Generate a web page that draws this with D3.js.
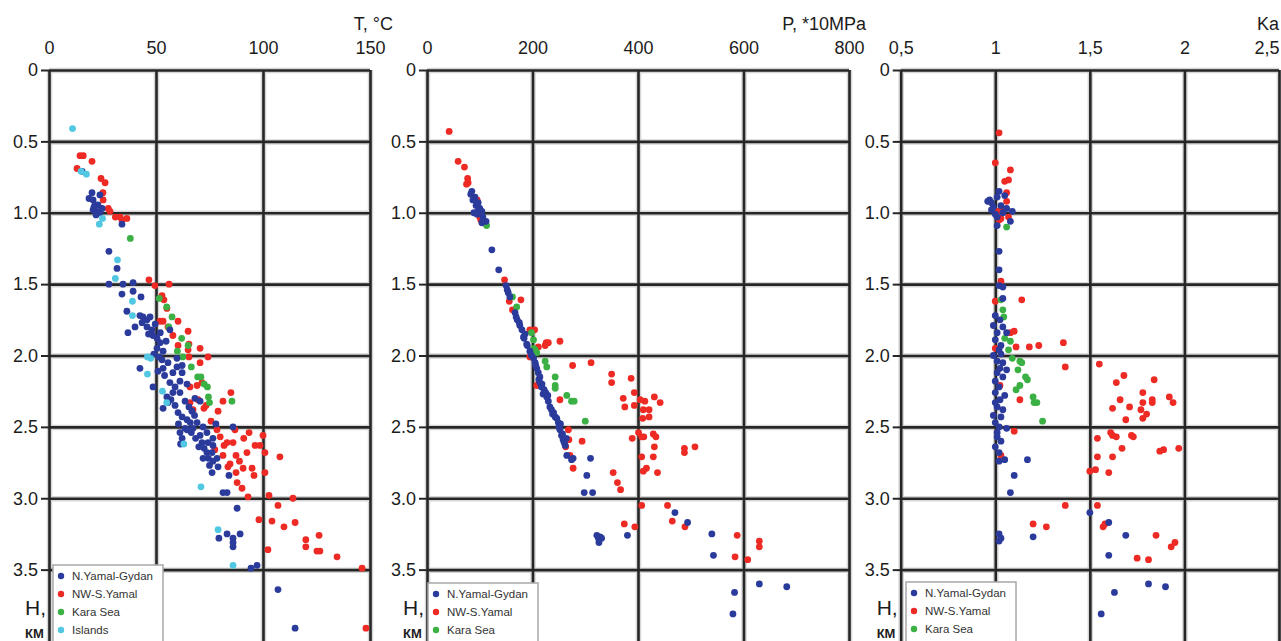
<!DOCTYPE html>
<html>
<head>
<meta charset="utf-8">
<script src="https://cdn.jsdelivr.net/npm/d3@7"></script>
<style>
  body { margin: 0; background: #fff; }
  svg { display: block; }
</style>
</head>
<body>
<svg id="chart" width="1281" height="641"></svg>
<script>
// ---- data: [value, depth km] ----
let depthTicks = [0, 0.5, 1, 1.5, 2, 2.5, 3, 3.5];
let tempTicks = [0, 50, 100, 150];
let presTicks = [0, 200, 400, 600, 800];
let kaTicks = [0.5, 1, 1.5, 2, 2.5];
let seriesNames = ["N.Yamal-Gydan", "NW-S.Yamal", "Kara Sea", "Islands"];

let tempGydan = [[20.1,0.86],[18.7,0.90],[20.6,0.91],[23.8,0.875],[21.5,0.945],[22.9,0.945],[20.6,0.98],[22.4,0.99],[22,1.015],[23.8,1.0],[21,0.96],[24.8,0.97],[15.5,0.71],[34.1,1.08],[28,1.27],[31.8,1.39],[28,1.50],[34.6,1.50],[39.3,1.49],[39.3,1.55],[34.1,1.57],[43,1.59],[36.4,1.69],[36.9,1.84],[40.2,1.80],[42.5,1.72],[43.9,1.73],[45.8,1.75],[47.2,1.73],[43.5,1.77],[45.8,1.80],[48.1,1.82],[48.6,1.86],[50.5,1.88],[51.9,1.91],[50.5,1.95],[53.3,1.97],[51.4,2.01],[52.8,2.03],[55.6,2.05],[53.3,2.09],[50.9,2.11],[42.5,2.09],[59.8,2.08],[62.2,2.07],[57.9,2.12],[62.2,2.12],[48.6,2.22],[56.5,2.19],[58.9,2.22],[57.9,2.26],[61.2,2.26],[63.6,2.32],[55.1,2.29],[55.6,2.33],[53.3,2.37],[58.9,2.35],[60.3,2.40],[62.2,2.43],[64.5,2.45],[66.8,2.39],[70.6,2.32],[68.2,2.30],[69.2,2.47],[72,2.50],[67.3,2.51],[63.6,2.51],[86,2.50],[61.2,2.54],[64.5,2.52],[62.2,2.58],[70.6,2.56],[73.8,2.54],[76.6,2.58],[71.5,2.61],[74.3,2.61],[76.6,2.63],[73.8,2.68],[76.2,2.68],[72,2.72],[76.6,2.74],[78.5,2.72],[76.2,2.82],[84.1,2.84],[81.3,2.96],[83.2,2.96],[87.9,3.07],[79.4,3.28],[83.2,3.25],[86,3.28],[86,3.31],[86,3.34],[89.3,3.25],[94.4,3.49],[97.2,3.47],[107,3.64],[115,3.91],[56.5,1.82],[54.7,1.90],[49.6,1.78],[61.2,2.18],[65.4,2.36],[68,2.42],[66.5,2.54],[60.5,2.48],[57,2.31],[54,2.14],[61.5,2.62],[72.5,2.65],[75,2.77],[78,2.48],[59.8,2.02],[64.5,2.20],[68.5,2.58],[70,2.64],[74.5,2.72],[66,2.47],[79,2.78],[46.5,1.85],[52,1.84],[49,1.99]];
let tempYamal = [[14.5,0.60],[16,0.60],[20.1,0.64],[13.1,0.69],[24.3,0.76],[26.2,0.79],[25.2,0.86],[25.3,0.91],[27.7,0.97],[28.5,0.99],[31,1.03],[33.2,1.03],[36.4,1.04],[34.1,1.05],[46.7,1.47],[49.5,1.51],[56.1,1.50],[52.8,1.58],[53.7,1.61],[55.1,1.67],[51.9,1.76],[53.3,1.76],[60.3,1.76],[55.6,1.80],[65,1.83],[57.9,1.86],[60.3,1.93],[65.4,1.92],[70.6,1.95],[65,1.96],[65.4,2.01],[74.3,2.01],[70.6,2.05],[65.9,2.22],[69.2,2.21],[71.5,2.19],[85,2.26],[81.3,2.32],[79,2.39],[72.4,2.37],[73.4,2.35],[65.9,2.33],[75.7,2.46],[67.3,2.38],[69.6,2.31],[78.5,2.52],[86.9,2.52],[93.5,2.54],[100,2.56],[83.2,2.61],[81.8,2.63],[86,2.61],[96.3,2.63],[98.6,2.63],[100.9,2.68],[107.9,2.71],[81.3,2.70],[87.4,2.70],[84.6,2.76],[90.7,2.79],[94.9,2.79],[83.6,2.78],[87.4,2.82],[95.8,2.84],[100.9,2.82],[87.9,2.89],[90.2,2.93],[93,2.99],[102.8,2.98],[114,3.00],[107,3.05],[98.1,3.15],[104.2,3.16],[115,3.17],[109.8,3.20],[120,3.29],[120,3.34],[126.2,3.26],[125.2,3.37],[126.6,3.37],[102.3,3.36],[134.6,3.41],[146.3,3.49],[148.1,3.91],[80,2.57],[91,2.58],[77.5,2.66],[89,2.74],[92.5,2.68]];
let tempKara = [[38,1.18],[51.5,1.60],[55,1.66],[57.5,1.73],[62,1.88],[65,1.93],[62.5,2.01],[66.5,2.08],[69.5,2.15],[71,2.15],[72.5,2.20],[74,2.22],[74.5,2.29],[75,2.33],[85.5,2.32],[56,1.80],[60,1.97]];
let tempIslands = [[11,0.41],[15,0.71],[17.5,0.73],[25,1.04],[23.5,1.08],[32,1.33],[31,1.46],[39,1.62],[39,1.72],[46,2.01],[47.5,2.02],[46,2.13],[53,2.25],[55,2.33],[63,2.62],[71,2.92],[79,3.22],[86,3.47]];

let presGydan = [[85,0.85],[91,0.89],[87,0.91],[97,0.93],[93,0.95],[100,0.97],[97,0.99],[104,0.99],[89,1.00],[106,1.03],[112,1.06],[104,1.07],[83,0.87],[95,1.01],[123,1.26],[136,1.40],[150,1.51],[152,1.54],[154,1.56],[157,1.59],[167,1.70],[171,1.75],[176,1.79],[180,1.82],[183,1.87],[190,1.93],[175,1.77],[184,1.88],[189,1.92],[195,1.97],[202,2.02],[205,2.05],[208,2.09],[211,2.12],[214,2.15],[214,2.19],[217,2.22],[222,2.24],[227,2.29],[230,2.32],[233,2.36],[236,2.38],[240,2.40],[246,2.44],[249,2.47],[252,2.52],[255,2.56],[258,2.59],[262,2.63],[265,2.70],[274,2.73],[277,2.72],[310,2.72],[303,2.84],[298,2.96],[314,2.96],[322,3.26],[325,3.28],[328,3.27],[331,3.28],[326,3.31],[380,3.26],[470,3.10],[494,3.17],[540,3.25],[543,3.40],[630,3.60],[682,3.62],[583,3.66],[580,3.81],[198,2.00],[220,2.27],[225,2.26],[243,2.43],[250,2.50],[257,2.55],[260,2.61],[206,2.07],[218,2.20],[169,1.73],[186,1.85],[212,2.17],[229,2.28],[238,2.41],[253,2.48],[264,2.58]];
let presYamal = [[42,0.43],[59,0.64],[71,0.68],[77,0.76],[78,0.79],[75,0.80],[95,0.91],[100,1.03],[102,1.05],[147,1.47],[178,1.61],[156,1.62],[162,1.68],[195,1.82],[204,1.82],[226,1.91],[230,1.91],[252,1.90],[224,1.93],[211,1.94],[195,2.01],[276,2.07],[311,2.05],[350,2.13],[350,2.19],[387,2.16],[393,2.26],[372,2.30],[375,2.36],[393,2.35],[404,2.31],[413,2.32],[410,2.38],[421,2.38],[431,2.29],[442,2.33],[409,2.44],[421,2.43],[252,2.31],[208,2.21],[268,2.52],[269,2.59],[294,2.60],[263,2.64],[271,2.70],[277,2.79],[389,2.58],[401,2.54],[407,2.57],[411,2.57],[429,2.55],[434,2.57],[431,2.64],[429,2.71],[407,2.71],[416,2.79],[410,2.81],[437,2.82],[488,2.65],[488,2.68],[508,2.64],[353,2.82],[361,2.89],[367,2.94],[407,3.05],[456,3.05],[465,3.16],[489,3.20],[374,3.18],[394,3.20],[588,3.26],[630,3.30],[630,3.34],[584,3.41],[608,3.43]];
let presKara = [[113,1.09],[162,1.59],[170,1.66],[198,1.84],[202,1.89],[205,1.96],[202,1.95],[208,1.98],[224,2.04],[227,2.08],[243,2.15],[243,2.21],[243,2.23],[265,2.28],[274,2.32],[279,2.32],[300,2.46]];

let kaGydan = [[0.97,0.91],[0.98,0.93],[0.96,0.92],[0.99,0.96],[1.01,0.89],[1.02,0.85],[1.05,0.88],[1.03,0.95],[1.06,0.97],[1.09,0.99],[1.01,1.03],[1.08,1.06],[1.01,1.09],[1.04,1.00],[0.98,0.98],[1.00,1.01],[1.02,1.27],[1.02,1.40],[1.02,1.51],[1.04,1.52],[1.04,1.60],[1.00,1.72],[1.025,1.75],[0.99,1.79],[1.04,1.80],[1.01,1.84],[1.06,1.84],[1.00,1.89],[1.03,1.93],[1.02,1.96],[1.01,2.04],[1.04,2.05],[1.025,2.09],[1.06,2.10],[1.01,2.12],[1.02,2.22],[1.00,2.26],[1.05,2.28],[1.025,2.31],[1.01,2.36],[0.99,2.42],[1.03,2.43],[1.02,2.50],[1.06,2.51],[1.01,2.57],[1.03,2.60],[1.00,2.64],[1.02,2.68],[1.00,2.18],[1.04,2.15],[0.99,2.00],[1.03,1.99],[1.00,2.33],[1.04,2.38],[1.00,2.47],[1.01,2.54],[1.17,2.73],[1.05,2.73],[1.02,2.74],[1.10,2.84],[1.08,2.96],[1.50,3.10],[1.60,3.17],[1.69,3.26],[1.20,3.27],[1.02,3.25],[1.03,3.28],[1.02,3.30],[1.60,3.40],[1.81,3.60],[1.90,3.62],[1.63,3.66],[1.56,3.81]];
let kaYamal = [[1.02,0.44],[1.00,0.65],[1.08,0.70],[1.05,0.78],[1.07,0.77],[1.06,0.86],[1.06,0.92],[1.03,0.98],[1.02,1.05],[1.03,1.04],[1.07,1.03],[1.01,0.99],[1.03,1.48],[1.00,1.62],[1.14,1.61],[1.08,1.84],[1.10,1.83],[1.11,1.94],[1.18,1.94],[1.23,1.93],[1.36,1.91],[1.37,2.08],[1.00,1.95],[1.025,2.21],[1.13,2.31],[1.10,2.53],[1.03,2.70],[1.55,2.06],[1.64,2.19],[1.68,2.14],[1.84,2.17],[1.66,2.31],[1.62,2.37],[1.71,2.36],[1.78,2.26],[1.78,2.33],[1.83,2.31],[1.83,2.33],[1.77,2.38],[1.80,2.41],[1.78,2.44],[1.69,2.45],[1.92,2.29],[1.94,2.33],[1.54,2.58],[1.61,2.54],[1.62,2.56],[1.64,2.57],[1.72,2.56],[1.73,2.57],[1.67,2.65],[1.87,2.67],[1.89,2.66],[1.97,2.65],[1.54,2.71],[1.62,2.71],[1.53,2.80],[1.50,2.81],[1.60,2.82],[1.37,3.05],[1.54,3.05],[1.20,3.18],[1.27,3.20],[1.57,3.20],[1.58,3.18],[1.85,3.26],[1.93,3.34],[1.95,3.31],[1.75,3.42],[1.81,3.43]];
let kaKara = [[1.06,1.10],[1.03,1.61],[1.04,1.68],[1.045,1.73],[1.08,1.90],[1.07,1.96],[1.09,2.02],[1.13,2.04],[1.14,2.05],[1.12,2.10],[1.16,2.15],[1.17,2.17],[1.13,2.21],[1.11,2.24],[1.20,2.29],[1.205,2.33],[1.22,2.33],[1.25,2.46],[1.05,1.88]];

let colors = {gydan: "#2b3b9c", yamal: "#ee2a24", kara: "#3bb044", islands: "#52c7e2"};
let font = "'Liberation Sans', Arial, sans-serif";
let textColor = "#1c1c1c";

let svg = d3.select("#chart");
let plotTop = 70, plotBottom = 641;
let depth = d3.scaleLinear([0, 4], [plotTop, plotBottom]);
let depthFormat = d => d === 0 ? "0" : d3.format(".1f")(d);

function makePanel(cfg){
    let x = d3.scaleLinear(cfg.domain, [cfg.left, cfg.right]);
    let innerWidth = cfg.right - cfg.left;
    let innerHeight = plotBottom - plotTop;
    let panel = svg.append("g");

    // grid: soft halo first, then the dark line
    [["#d6d6d6", 5.5], ["#262626", 2.6]].forEach(([stroke, width]) => {
        panel.append("g")
            .attr("transform", `translate(${cfg.left},0)`)
            .call(d3.axisLeft(depth).tickValues(depthTicks).tickFormat("").tickSize(-innerWidth).tickSizeOuter(0))
            .call(g => g.select(".domain").remove())
            .selectAll("line").attr("stroke", stroke).attr("stroke-width", width);

        panel.append("g")
            .attr("transform", `translate(0,${plotTop})`)
            .call(d3.axisTop(x).tickValues(cfg.ticks).tickFormat("").tickSize(-innerHeight).tickSizeOuter(0))
            .call(g => g.select(".domain").remove())
            .selectAll("line").attr("stroke", stroke).attr("stroke-width", width);
    });

    // depth labels with short ticks
    panel.append("g")
        .attr("transform", `translate(${cfg.left},0)`)
        .call(d3.axisLeft(depth).tickValues(depthTicks).tickFormat(depthFormat).tickSize(8).tickPadding(3))
        .attr("font-size", 18).attr("font-family", font)
        .call(g => g.select(".domain").remove())
        .call(g => g.selectAll("line").attr("stroke", "#262626").attr("stroke-width", 2))
        .call(g => g.selectAll("text").attr("fill", textColor));

    // value labels on top
    let xLabels = panel.append("g")
        .attr("transform", `translate(0,${plotTop})`)
        .call(d3.axisTop(x).tickValues(cfg.ticks).tickFormat(cfg.format).tickSize(0).tickPadding(16))
        .attr("font-size", 18).attr("font-family", font)
        .call(g => g.select(".domain").remove());
    xLabels.selectAll("text").attr("fill", textColor);
    if (cfg.lastLabelEnd) {
        xLabels.selectAll(".tick").filter((d, i, n) => i === n.length - 1)
            .select("text").attr("text-anchor", "end").attr("x", 0);
    }

    panel.append("text")
        .attr("x", cfg.titleX).attr("y", 30)
        .attr("text-anchor", "end")
        .attr("font-size", 18).attr("font-family", font).attr("fill", textColor)
        .text(cfg.title);

    cfg.series.forEach(s => {
        panel.append("g")
            .selectAll("circle")
            .data(s.data)
            .join("circle")
            .attr("cx", d => x(d[0]))
            .attr("cy", d => depth(d[1]))
            .attr("r", 3.4)
            .attr("fill", s.color);
    });

    // legend
    let lg = panel.append("g").attr("transform", `translate(${cfg.legend.x},${cfg.legend.y})`);
    lg.append("rect")
        .attr("width", 110).attr("height", 90)
        .attr("fill", "#fff").attr("stroke", "#a8a8a8").attr("stroke-width", 1.5);
    cfg.legend.items.forEach((item, i) => {
        let row = lg.append("g").attr("transform", `translate(0,${11 + i * 18})`);
        row.append("circle").attr("cx", 8).attr("cy", 0).attr("r", 3.2).attr("fill", item.color);
        row.append("text").attr("x", 19).attr("y", 4)
            .attr("font-size", 11.5).attr("font-family", font).attr("fill", "#333")
            .text(item.name);
    });

    // H, km
    panel.append("text")
        .attr("x", cfg.left - 24).attr("y", 615)
        .attr("font-size", 21).attr("font-family", font).attr("fill", textColor)
        .text("H,");
    panel.append("text")
        .attr("x", cfg.left - 24).attr("y", 638)
        .attr("font-size", 13).attr("font-weight", "bold").attr("font-family", font).attr("fill", textColor)
        .text("КМ");
}

makePanel({
    left: 49, right: 370, domain: [0, 150], ticks: tempTicks, format: d3.format("d"),
    title: "T, °C", titleX: 393,
    series: [
        {data: tempYamal, color: colors.yamal},
        {data: tempKara, color: colors.kara},
        {data: tempGydan, color: colors.gydan},
        {data: tempIslands, color: colors.islands}
    ],
    legend: {x: 53, y: 565, items: [
        {name: seriesNames[0], color: colors.gydan},
        {name: seriesNames[1], color: colors.yamal},
        {name: seriesNames[2], color: colors.kara},
        {name: seriesNames[3], color: colors.islands}
    ]}
});

makePanel({
    left: 427, right: 849, domain: [0, 800], ticks: presTicks, format: d3.format("d"),
    title: "P, *10MPa", titleX: 866,
    series: [
        {data: presYamal, color: colors.yamal},
        {data: presKara, color: colors.kara},
        {data: presGydan, color: colors.gydan}
    ],
    legend: {x: 428, y: 583, items: [
        {name: seriesNames[0], color: colors.gydan},
        {name: seriesNames[1], color: colors.yamal},
        {name: seriesNames[2], color: colors.kara}
    ]}
});

makePanel({
    left: 900.7, right: 1279, domain: [0.5, 2.5], ticks: kaTicks, format: d => String(d).replace(".", ","),
    title: "Ka", titleX: 1279, lastLabelEnd: true,
    series: [
        {data: kaYamal, color: colors.yamal},
        {data: kaKara, color: colors.kara},
        {data: kaGydan, color: colors.gydan}
    ],
    legend: {x: 906, y: 582, items: [
        {name: seriesNames[0], color: colors.gydan},
        {name: seriesNames[1], color: colors.yamal},
        {name: seriesNames[2], color: colors.kara}
    ]}
});
</script>
</body>
</html>
